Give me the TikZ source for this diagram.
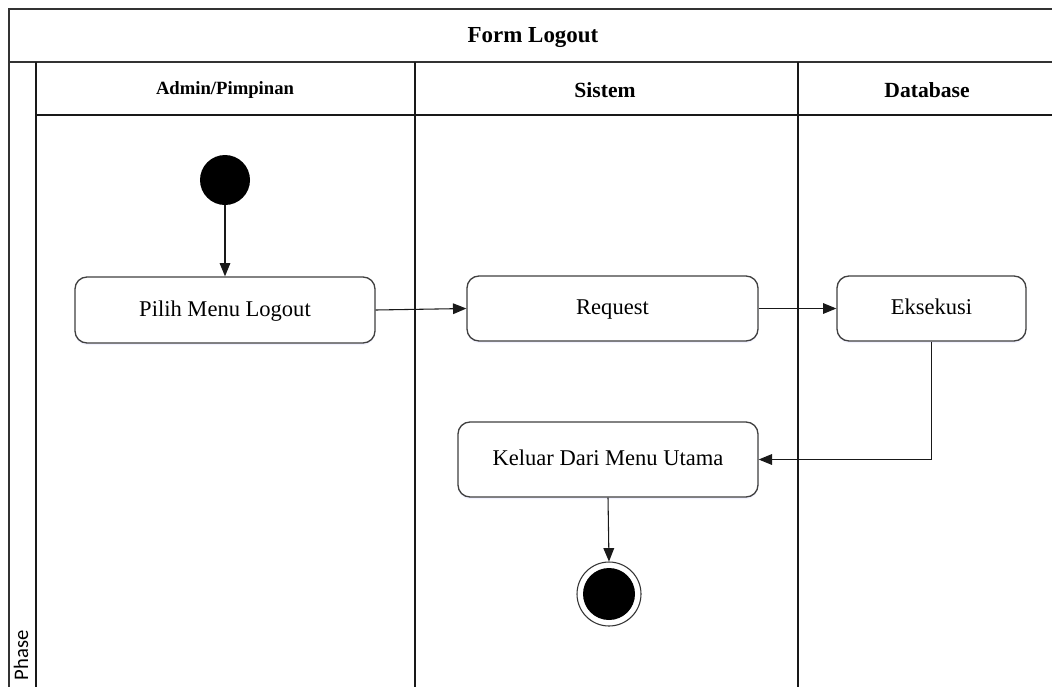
\documentclass[tikz,border=0pt]{standalone}
\usepackage{fontspec}
\setmainfont{Liberation Serif}
\newfontfamily\phasefont{Carlito}
\usetikzlibrary{arrows.meta,shadows}

\tikzset{
  frameline/.style={draw=black!80, line width=1.5pt},
  laneline/.style={draw=black!90, line width=1.5pt},
  actbox/.style={draw=black!75, line width=1pt, fill=white, rounded corners=9pt,
    align=center, inner sep=0pt, text height=12.5pt, text depth=3pt,
    font=\fontsize{16.9}{20}\selectfont,
    drop shadow={opacity=0.12, fill=blue!40, shadow xshift=0pt, shadow yshift=-1.5pt}},
  startnode/.style={circle, fill=black, minimum size=37.5pt, inner sep=0pt},
  endnode/.style={circle, draw=black!80, line width=0.8pt, fill=white,
    minimum size=48pt, inner sep=0pt, path picture={
      \fill[black] (path picture bounding box.center) circle (19.5pt);}},
  flow/.style={draw=black!90, line width=0.8pt, -{Triangle[length=10pt,width=8pt]}},
  lanetitle/.style={font=\bfseries\fontsize{16.2}{19}\selectfont},
}

\begin{document}
\begin{tikzpicture}[x=0.75pt, y=-0.75pt]
  \useasboundingbox (0,0) rectangle (1052,686);
  \clip (0,0) rectangle (1052,686);
  \fill[white] (0,0) rectangle (1052,686);

  % swimlane frame
  \draw[frameline] (9,700) -- (9,9) -- (1070,9);
  \draw[frameline] (9,62) -- (1070,62);
  \draw[laneline] (36,62) -- (36,700);
  \draw[laneline] (36,115) -- (1070,115);
  \draw[laneline] (415,62) -- (415,700);
  \draw[laneline] (798,62) -- (798,700);

  % headings
  \node[font=\bfseries\fontsize{17.2}{20}\selectfont] (title) at (533,37.5) {Form Logout};
  \node[font=\bfseries\fontsize{14}{17}\selectfont] (laneA) at (225,90.5) {Admin/Pimpinan};
  \node[lanetitle] (laneS) at (605,90.5) {Sistem};
  \node[lanetitle] (laneD) at (927,90.5) {Database};
  \node[font=\phasefont\fontsize{15.5}{18}\selectfont, rotate=90, anchor=base east,
        inner sep=0pt] (phase) at (28,630) {Phase};

  % activities
  \node[startnode] (start) at (225,180) {};
  \node[actbox, minimum width=225pt, minimum height=49.5pt] (pilih) at (225,310) {Pilih Menu Logout};
  \node[actbox, minimum width=218.25pt, minimum height=48.75pt] (req) at (612.5,308.5) {Request};
  \node[actbox, minimum width=141.75pt, minimum height=48.75pt] (eks) at (931.5,308.5) {Eksekusi};
  \node[actbox, minimum width=225pt, minimum height=56.25pt] (kel) at (608,459.5) {Keluar Dari Menu Utama};
  \node[endnode] (stop) at (609,594) {};

  % control flow
  \draw[flow] (start) -- (pilih);
  \draw[flow] (pilih.east) -- (req.west);
  \draw[flow] (req.east) -- (eks.west);
  \draw[flow] (eks.south) |- (kel.east);
  \draw[flow] (kel.south) -- (stop.north);
\end{tikzpicture}
\end{document}
